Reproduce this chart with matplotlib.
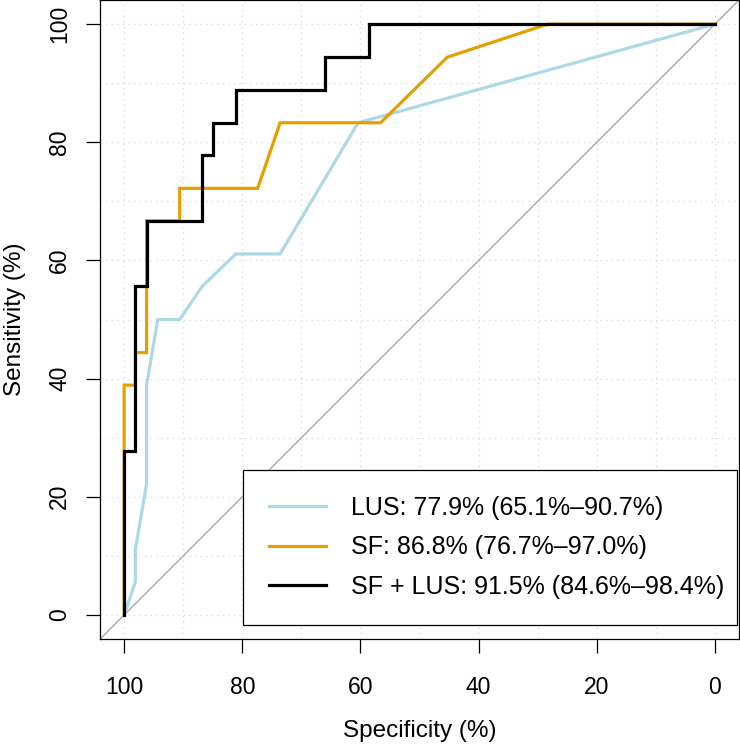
import matplotlib
matplotlib.use("Agg")
import matplotlib.pyplot as plt

plt.rcParams["font.family"] = ["Liberation Sans", "DejaVu Sans"]

# ROC curves: specificity (%) vs sensitivity (%)
lus_spec = [100, 98.1, 98.1, 96.2, 96.2, 94.3, 90.6, 86.8, 81.1, 73.6, 60.4, 0]
lus_sens = [0, 5.6, 11.1, 22.2, 38.9, 50.0, 50.0, 55.6, 61.1, 61.1, 83.3, 100]

sf_spec = [100, 100, 98.1, 98.1, 96.2, 96.2, 90.6, 90.6, 77.4, 73.6, 56.6, 45.3, 28.3, 0]
sf_sens = [0, 38.9, 38.9, 44.4, 44.4, 66.7, 66.7, 72.2, 72.2, 83.3, 83.3, 94.4, 100, 100]

comb_spec = [100, 100, 98.1, 98.1, 96.2, 96.2, 86.8, 86.8, 84.9, 84.9, 81.1, 81.1,
             66.0, 66.0, 58.5, 58.5, 0]
comb_sens = [0, 27.8, 27.8, 55.6, 55.6, 66.7, 66.7, 77.8, 77.8, 83.3, 83.3, 88.9,
             88.9, 94.4, 94.4, 100, 100]

labels = ["LUS: 77.9% (65.1%\u201390.7%)",
          "SF: 86.8% (76.7%\u201397.0%)",
          "SF + LUS: 91.5% (84.6%\u201398.4%)"]
colors = ["#ADD8E6", "#E69F00", "black"]


def main():
    fig = plt.figure(figsize=(7.4, 7.45), dpi=100)
    ax = fig.add_axes([0.1358, 0.1428, 0.8623, 0.8566])

    ax.set_xlim(104, -4)
    ax.set_ylim(-4, 104)

    ax.set_xticks(range(0, 101, 20))
    ax.set_yticks(range(0, 101, 20))
    ax.set_xticks(range(0, 101, 10), minor=True)
    ax.set_yticks(range(0, 101, 10), minor=True)
    ax.grid(which="both", color="#DDDDDD", linestyle=(0, (1, 3)), linewidth=1.0)
    ax.set_axisbelow(True)

    ax.axline((100, 0), (0, 100), color="#A8A8A8", linewidth=1.0)

    for xs, ys, c, lab in zip([lus_spec, sf_spec, comb_spec],
                              [lus_sens, sf_sens, comb_sens], colors, labels):
        ax.plot(xs, ys, color=c, linewidth=2.3, label=lab, solid_joinstyle="miter")

    ax.tick_params(which="major", direction="out", length=10, width=0.9,
                   labelsize=16.5)
    ax.tick_params(axis="x", pad=17)
    ax.tick_params(axis="y", pad=11, labelrotation=90)
    ax.tick_params(which="minor", length=0)
    for t in ax.get_yticklabels():
        t.set_verticalalignment("center")

    for s in ax.spines.values():
        s.set_linewidth(0.9)

    ax.set_xlabel("Specificity (%)", fontsize=17.5, labelpad=15)
    ax.set_ylabel("Sensitivity (%)", fontsize=17.5, labelpad=16)

    leg = ax.legend(loc="lower left", bbox_to_anchor=(0.2229, 0.0213, 0.774, 0.2455),
                    mode="expand", borderaxespad=0, fontsize=18, frameon=True,
                    fancybox=False, borderpad=1.05, labelspacing=0.62,
                    handlelength=2.3, handletextpad=1.0)
    leg.get_frame().set_edgecolor("black")
    leg.get_frame().set_linewidth(0.9)
    leg.get_frame().set_alpha(1.0)

    fig.savefig("out.png", dpi=100)
    plt.close(fig)


if __name__ == "__main__":
    main()
